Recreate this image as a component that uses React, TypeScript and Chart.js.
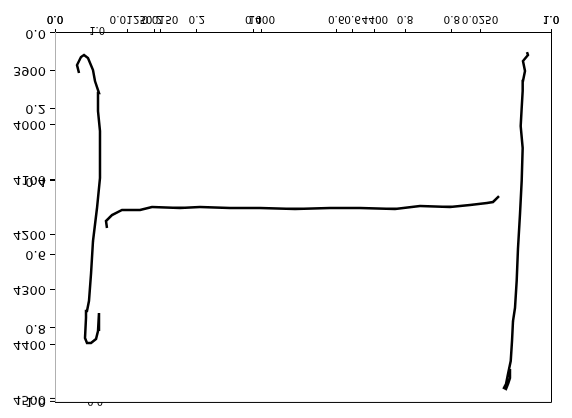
import React, { useEffect, useRef } from "react";
import { Chart, registerables } from "chart.js";
Chart.register(...registerables);

// Left vertical trace
const leftX = [0.0484, 0.0444, 0.0524, 0.0585, 0.0665, 0.0766, 0.0806, 0.0887, 0.0867, 0.0907, 0.0907, 0.0847, 0.0766, 0.0726, 0.0685, 0.0645, 0.0625, 0.0605, 0.0645, 0.0726, 0.0827, 0.0867, 0.0887];
const leftY = [3905.5, 3890.9, 3876.3, 3872.6, 3878.1, 3900.0, 3920.1, 3941.9, 3974.8, 4011.3, 4097.0, 4151.7, 4211.9, 4272.1, 4321.3, 4339.5, 4352.3, 4388.8, 4397.9, 4397.9, 4390.6, 4376.0, 4343.2];

// Middle horizontal trace
const midX = [0.1048, 0.1028, 0.1149, 0.1351, 0.1714, 0.1956, 0.2520, 0.2923, 0.3528, 0.4133, 0.4839, 0.5544, 0.6149, 0.6855, 0.7359, 0.7964, 0.8367, 0.8710, 0.8831, 0.8952];
const midY = [4188.2, 4175.4, 4164.5, 4155.3, 4155.3, 4149.9, 4151.7, 4149.9, 4151.7, 4151.7, 4153.5, 4151.7, 4151.7, 4153.5, 4148.0, 4149.9, 4146.2, 4142.6, 4140.7, 4129.8];

// Right vertical trace
const rightX = [0.9516, 0.9536, 0.9435, 0.9476, 0.9435, 0.9429, 0.9409, 0.9389, 0.9429, 0.9409, 0.9375, 0.9335, 0.9308, 0.9274, 0.9234, 0.9214, 0.9188, 0.9133, 0.9093, 0.9052, 0.9093, 0.9133, 0.9173, 0.9173];
const rightY = [3867.2, 3872.6, 3883.6, 3901.8, 3920.1, 3938.3, 3969.3, 4002.1, 4042.3, 4102.4, 4162.6, 4224.6, 4284.8, 4334.1, 4357.8, 4394.3, 4430.7, 4454.4, 4472.7, 4480.0, 4481.8, 4472.7, 4461.7, 4445.3];

// Axis ranges
const xMin = 0;
const xMax = 1;
const yMin = 3832.5;
const yMax = 4507.3;

// Overlapping tick sets (several axes drawn on top of each other)
const xTickValues = [0, 0, 0.147, 0.2, 0.212, 0.286, 0.4, 0.417, 0.567, 0.6, 0.645, 0.706, 0.8, 0.857, 1, 1];
const xTickLabels = ["0.0", "0.0", "0.0125", "0.2", "0.0150", "0.2", "0.4", "1000", "0.6", "0.6", "4400", "0.8", "0.8", "0.0250", "1.0", "1.0"];

const yTickValues = [3832.5, 3900, 3969.3, 4000, 4100, 4102.4, 4200, 4235.6, 4300, 4370.5, 4400, 4500, 4503.7];
const yTickLabels = ["0.0", "3900", "0.2", "4000", "4100", "0.4", "4200", "0.6", "4300", "0.8", "4400", "4500", "1.0"];

const strayLabels = ["1.0", "0.0"];

const toPts = (xs: number[], ys: number[]) => xs.map((x, i) => ({ x, y: ys[i] }));

export default function App() {
  const ref = useRef<HTMLCanvasElement | null>(null);
  useEffect(() => {
    document.body.style.margin = "0";
    const canvas = ref.current!;
    const boxPlugin = {
      id: "box",
      afterDraw(chart: any) {
        const { ctx, chartArea } = chart;
        const r = Math.round(chartArea.right) + 0.5;
        const t = Math.round(chartArea.top) + 0.5;
        ctx.save();
        ctx.strokeStyle = "#000";
        ctx.lineWidth = 1;
        ctx.beginPath();
        ctx.moveTo(chartArea.left, t);
        ctx.lineTo(r, t);
        ctx.lineTo(r, chartArea.bottom);
        ctx.stroke();
        // stray labels
        ctx.fillStyle = "#000";
        ctx.font = "10px 'DejaVu Sans'";
        ctx.textAlign = "center";
        ctx.textBaseline = "middle";
        const xs = chart.scales.x;
        const px = xs.getPixelForValue(0.085);
        ctx.fillText(strayLabels[0], px, chartArea.bottom + 3);
        ctx.beginPath();
        ctx.rect(0, 0, 572, chartArea.top);
        ctx.clip();
        ctx.fillText(strayLabels[1], px - 2, chartArea.top + 2);
        ctx.restore();
      },
    };
    const chart = new Chart(canvas, {
      type: "scatter",
      data: {
        datasets: [
          { data: toPts(leftX, leftY) },
          { data: toPts(midX, midY) },
          { data: toPts(rightX, rightY) },
        ].map((d) => ({
          ...d,
          showLine: true,
          borderColor: "#000",
          backgroundColor: "#000",
          borderWidth: 2.5,
          pointRadius: 0,
          tension: 0,
          fill: false,
        })),
      },
      options: {
        animation: false,
        responsive: false,
        layout: { padding: { top: 15, right: 21, left: 0, bottom: 0 } },
        plugins: { legend: { display: false }, tooltip: { enabled: false } },
        scales: {
          x: {
            type: "linear",
            min: xMin,
            max: xMax,
            position: "bottom",
            afterFit: (s: any) => { s.height = 33; },
            afterBuildTicks: (s: any) => { s.ticks = xTickValues.map((v) => ({ value: v })); },
            grid: { display: true, drawOnChartArea: false, drawTicks: true, tickLength: 4, color: "#000", lineWidth: 1 },
            border: { display: true, color: "#000", width: 1 },
            ticks: {
              autoSkip: false,
              maxRotation: 0,
              minRotation: 0,
              padding: 4,
              color: "#000",
              font: { family: "'DejaVu Sans'", size: 10.5 },
              callback: (_v: any, i: number) => xTickLabels[i],
            },
          },
          y: {
            type: "linear",
            min: yMin,
            max: yMax,
            position: "left",
            afterFit: (s: any) => { s.width = 55; },
            afterBuildTicks: (s: any) => { s.ticks = yTickValues.map((v) => ({ value: v })); },
            grid: { display: true, drawOnChartArea: false, drawTicks: true, tickLength: 5, color: "#000", lineWidth: 1 },
            border: { display: true, color: "#b0b0b0", width: 1 },
            ticks: {
              autoSkip: false,
              padding: 4,
              color: "#000",
              font: { family: "'DejaVu Sans'", size: 13 },
              callback: (_v: any, i: number) => yTickLabels[i],
            },
          },
        },
      },
      plugins: [boxPlugin],
    } as any);
    return () => chart.destroy();
  }, []);
  return (
    <div style={{ width: 572, height: 418 }}>
      <canvas ref={ref} width={572} height={418} style={{ display: "block", width: 572, height: 418, transform: "scaleY(-1)" }} />
    </div>
  );
}
